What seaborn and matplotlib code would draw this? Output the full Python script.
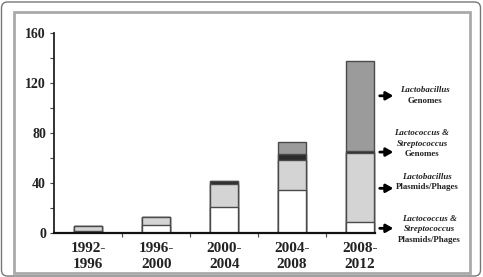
import matplotlib
matplotlib.use("Agg")
import matplotlib.pyplot as plt
import seaborn as sns
import pandas as pd
import numpy as np
from matplotlib.patches import FancyBboxPatch, Rectangle

periods = ["1992-\n1996", "1996-\n2000", "2000-\n2004", "2004-\n2008", "2008-\n2012"]
lc_plasmids = [1.5, 7, 21.3, 35, 9]       # Lactococcus & Streptococcus plasmids/phages
lb_plasmids = [4, 6.3, 18.4, 23.6, 55]    # Lactobacillus plasmids/phages
lc_genomes = [0, 0, 2.1, 4.8, 2]          # Lactococcus & Streptococcus genomes
lb_genomes = [0, 0, 0, 9.4, 72]           # Lactobacillus genomes
yticks = [0, 40, 80, 120, 160]

# labels on the right: (arrow y value, [(text, italic), ...])
labels = [
    (110, [("Lactobacillus", True), ("Genomes", False)]),
    (65, [("Lactococcus &", True), ("Streptococcus", True), ("Genomes", False)]),
    (36, [("Lactobacillus", True), ("Plasmids/Phages", False)]),
    (4, [("Lactococcus &", True), ("Streptococcus", True), ("Plasmids/Phages", False)]),
]

sns.set_theme(style="white")
plt.rcParams['font.family'] = ['Liberation Serif', 'DejaVu Serif']

fig = plt.figure(figsize=(4.83, 2.77), dpi=100)
ax = fig.add_axes([0.1124, 0.1577, 0.7033, 0.7221])

df = pd.DataFrame({"period": periods, "lc_p": lc_plasmids, "lb_p": lb_plasmids,
                   "lc_g": lc_genomes, "lb_g": lb_genomes})
df["c1"] = df["lc_p"]
df["c2"] = df["c1"] + df["lb_p"]
df["c3"] = df["c2"] + df["lc_g"]
df["c4"] = df["c3"] + df["lb_g"]

layers = [("c4", "#9b9b9b"), ("c3", "#2b2b2b"), ("c2", "#d4d4d4"), ("c1", "white")]
for col, color in layers:
    sns.barplot(data=df, x="period", y=col, color=color, width=0.41,
                edgecolor="#4a4a4a", linewidth=1.0, saturation=1, ax=ax)

ax.set_xlim(-0.5, 4.5)
ax.set_ylim(0, 160)
ax.set_xlabel("")
ax.set_ylabel("")
ax.set_yticks(yticks)
ax.set_yticks([20, 60, 100, 140], minor=True)
ax.set_xticks([0.5, 1.5, 2.5, 3.5], minor=True)
for s in ["top", "right"]:
    ax.spines[s].set_visible(False)
ax.spines["left"].set_color("#222222")
ax.spines["left"].set_linewidth(1.3)
ax.spines["bottom"].set_color("#111111")
ax.spines["bottom"].set_linewidth(1.6)
ax.spines["bottom"].set_bounds(-0.5, 4.22)
ax.tick_params(axis="y", which="both", direction="out", length=3, width=0.8,
               color="#444444", left=True, labelsize=10, pad=3, labelcolor="#222222")
ax.tick_params(axis="x", which="major", length=0, pad=6, labelsize=11,
               labelcolor="#222222")
ax.tick_params(axis="x", which="minor", direction="out", length=3, width=0.8,
               color="#444444", bottom=True)
for t in ax.get_yticklabels():
    t.set_fontweight("bold")
for t in ax.get_xticklabels():
    t.set_fontweight("bold")
    t.set_linespacing(1.3)

# arrows and side labels
for y, lines in labels:
    ax.annotate("", xy=(4.49, y), xytext=(4.29, y), xycoords="data",
                arrowprops=dict(arrowstyle="-|>,head_length=0.35,head_width=0.2",
                                lw=2.0, color="black", shrinkA=0, shrinkB=0),
                annotation_clip=False)

label_x = [425, 422, 427, 429]
line_h = 10.6
label_tops = [90, 133, 176.7, 218.7]
for (y, lines), lx, top in zip(labels, label_x, label_tops):
    for i, (txt, ital) in enumerate(lines):
        py = top + i * line_h
        fig.text(lx / 483, 1 - py / 277, txt, ha="center", va="center",
                 fontsize=6.4, fontweight="bold",
                 fontstyle="italic" if ital else "normal", color="#222222")

# frames
fig.patches.append(Rectangle((13.5, 4), 456.5, 261, transform=None, fill=False,
                             edgecolor="#aaaaaa", linewidth=2))
fig.patches.append(FancyBboxPatch((1.5, 1), 479, 274, transform=None, fill=False,
                                  boxstyle="round,pad=0,rounding_size=6",
                                  edgecolor="#777777", linewidth=1))

fig.savefig("out.png", dpi=100)
